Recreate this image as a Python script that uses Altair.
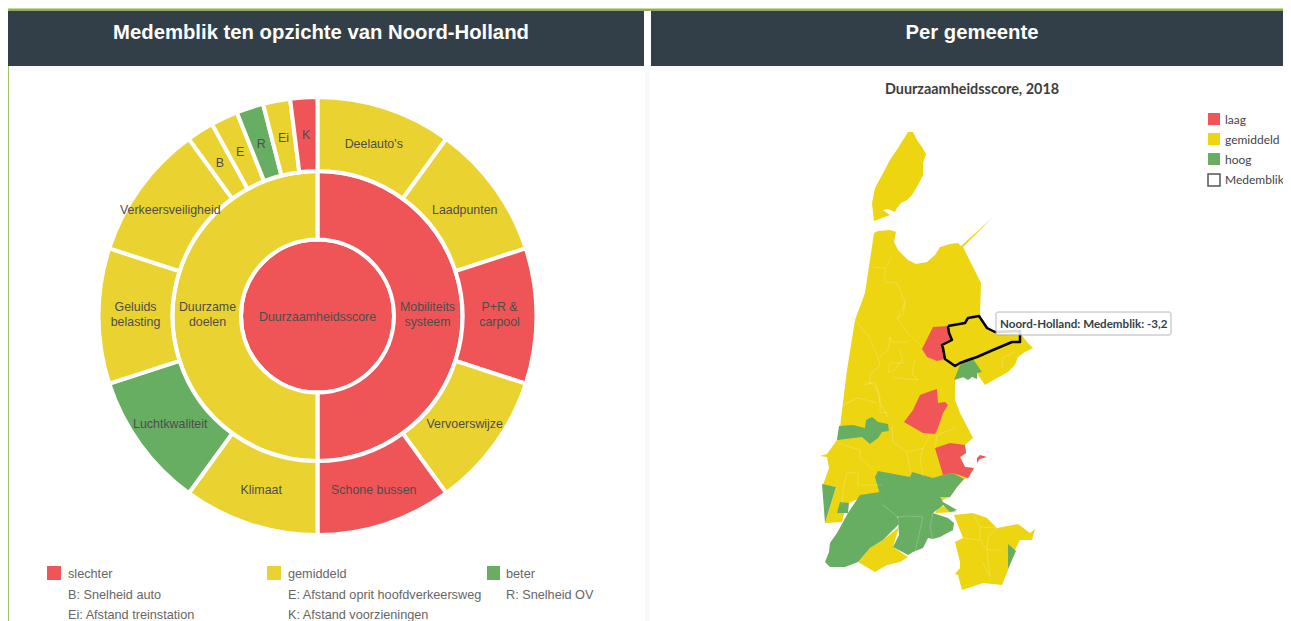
import math
import altair as alt

# ---- sunburst values (each share in degrees of the ring) ----
inner_names = ["Duurzaamheidsscore"]
inner_shares = [360]
inner_status = ["slechter"]

middle_names = ["Mobiliteits\nsysteem", "Duurzame\ndoelen"]
middle_shares = [180, 180]
middle_status = ["slechter", "gemiddeld"]

outer_names = ["Deelauto's", "Laadpunten", "P+R &\ncarpool", "Vervoerswijze", "Schone bussen",
               "Klimaat", "Luchtkwaliteit", "Geluids\nbelasting", "Verkeersveiligheid",
               "B", "E", "R", "Ei", "K"]
outer_shares = [36, 36, 36, 36, 36, 36, 36, 36, 36, 7.2, 7.2, 7.2, 7.2, 7.2]
outer_status = ["gemiddeld", "gemiddeld", "slechter", "gemiddeld", "slechter",
                "gemiddeld", "beter", "gemiddeld", "gemiddeld",
                "gemiddeld", "gemiddeld", "beter", "gemiddeld", "slechter"]

status_domain = ["slechter", "gemiddeld", "beter", "laag", "middel", "hoog"]
status_range = ["#EF5557", "#EAD330", "#67AD62", "#F05557", "#EDD512", "#67AD62"]

left_legend_a = ["slechter", "B: Snelheid auto", "Ei: Afstand treinstation"]
left_legend_b = ["gemiddeld", "E: Afstand oprit hoofdverkeersweg", "K: Afstand voorzieningen"]
left_legend_c = ["beter", "R: Snelheid OV"]
right_legend = ["laag", "gemiddeld", "hoog", "Medemblik"]

# ---- map shapes, traced in map units ----
texel = [(908,132),(913,132),(917,140),(922,147),(926,154),(923,163),(923,175),(918,185),(912,195),(907,200),
         (901,203),(897,208),(895,212),(888,209),(883,210),(890,215),(874,221),(872,203),(875,188),(882,175),
         (890,160),(898,148),(905,137)]
mainland = [(874,233),(878,231),(890,230),(896,232),(894,242),(898,250),(908,260),(916,264),(927,262),(935,255),
            (940,247),(950,244),(958,243),(961,246),(993,217),(963,247),(981,283),(980,315),(983,322),(987,328),
            (995,332),(1020,333),(1028,343),(1033,348),(1025,352),(1018,357),(1015,365),(1008,372),(997,378),
            (985,385),(980,378),(977,373),(955,380),(955,400),(960,413),(973,438),(965,445),(966,453),(960,457),
            (965,467),(974,468),(968,478),(964,479),(957,487),(950,497),(930,505),(883,505),(860,498),(849,503),
            (845,510),(842,522),(825,523),(836,487),(823,485),(829,468),(827,457),(820,456),(827,454),(837,440),
            (840,427),(847,370),(855,320),(865,293),(873,267)]
gooi = [(954,515),(973,513),(987,518),(997,528),(1018,524),(1030,533),(1035,529),(1032,540),(1020,540),(1015,550),
        (1008,570),(1002,585),(983,583),(962,590),(958,575),(955,574),(960,568),(960,562),(955,542),(963,538),(955,537)]
south_bit = [(858,562),(870,548),(883,540),(899,527),(893,547),(908,557),(900,562),(887,565),(875,572),(873,563)]
diemen_bit = [(935,513),(940,505),(957,512),(948,520)]
hoorn = [(960,365),(968,360),(972,358),(975,362),(982,372),(977,373),(977,379),(972,377),(968,380),(963,377),
         (954,380),(959,373)]
alkmaar_red = [(933,327),(948,326),(950,333),(953,340),(942,345),(945,359),(937,361),(927,357),(922,349),(928,335)]
beemster_red = [(904,422),(913,410),(920,395),(928,392),(937,389),(938,403),(945,402),(948,405),(943,413),(938,428),
                (935,434),(923,433),(908,428)]
waterland_red = [(935,448),(950,443),(965,445),(966,453),(960,457),(965,467),(974,468),(968,478),(953,473),(943,475),(936,473)]
marken_red = [(977,458),(980,455),(987,457),(980,459),(977,463),(974,462)]
velsen = [(837,440),(839,426),(853,425),(865,428),(866,420),(872,417),(878,422),(888,424),(889,431),(882,432),
          (878,438),(870,444),(862,437),(848,438)]
zandvoort = [(822,484),(836,487),(825,523),(809,516)]
small_green = [(837,513),(840,502),(849,503),(848,513),(842,518)]
meer = [(848,513),(860,495),(880,492),(883,505),(897,515),(899,524),(883,540),(870,548),(858,562),(845,567),
        (830,567),(825,562),(829,552),(830,543),(837,533),(842,520)]
amsterdam = [(875,477),(878,471),(910,477),(912,472),(933,478),(943,475),(953,473),(964,479),(957,487),(950,497),
             (940,497),(943,502),(957,510),(950,512),(943,505),(933,513),(948,518),(954,523),(953,530),(940,537),
             (933,539),(928,538),(923,548),(913,552),(908,555),(893,547),(899,535),(898,517),(883,505),(883,487)]
weesp = [(1008,544),(1016,551),(1008,569),(1001,553)]
medemblik = [(948,326),(965,323),(968,318),(979,316),(983,322),(987,328),(995,332),(1020,331),(1020,342),(1012,342),
             (993,350),(977,357),(968,360),(960,363),(955,366),(945,359),(943,348),(942,345),(952,340),(949,333),(948,326)]

borders = [
    [(905,300),(903,315),(897,318),(908,333),(922,347)],
    [(855,320),(868,335),(878,357),(880,365),(870,375),(870,383),(877,388),(880,403),(888,417)],
    [(880,357),(888,350),(890,337),(892,342),(908,342)],
    [(900,350),(903,363),(890,363),(888,372),(895,370),(900,362)],
    [(915,360),(912,373),(918,380),(897,378),(892,377)],
    [(843,405),(858,398),(877,403)],
    [(863,385),(872,383)],
    [(865,383),(875,383),(880,397),(880,412),(888,413)],
    [(892,427),(893,442),(907,452),(911,475)],
    [(838,443),(860,450),(860,458),(873,470)],
    [(930,435),(923,448),(907,452)],
    [(923,448),(920,458),(923,477)],
    [(935,448),(937,435),(955,428)],
    [(847,473),(843,490),(842,505)],
    [(847,473),(858,472),(858,485),(882,485)],
    [(873,267),(885,268),(892,257)],
    [(885,268),(885,282),(897,283),(905,303),(897,318)],
    [(980,527),(997,528)],
    [(963,538),(980,540),(987,550),(990,577),(983,563)],
    [(997,528),(988,537),(987,550),(1002,550)],
    [(973,513),(980,527),(980,540)],
    [(1015,352),(1002,358),(1003,368)],
    [(898,517),(907,516),(923,517),(915,552)],
    [(933,513),(930,527),(933,539)],
    [(883,505),(898,517)],
]


def ring_rows(names, shares, status, r0, r1, rt):
    rows, start = [], 0.0
    for n, s, c in zip(names, shares, status):
        rows.append({"name": n, "a0": start, "a1": start + s, "mid": start + s / 2,
                     "status": c, "r0": r0, "r1": r1, "rt": rt})
        start += s
    return rows


rows = (ring_rows(inner_names, inner_shares, inner_status, 0, 76.5, 0)
        + ring_rows(middle_names, middle_shares, middle_status, 76.5, 145, 110)
        + ring_rows(outer_names, outer_shares, outer_status, 145, 219, 182))
rows_single = [r for r in rows if "\n" not in r["name"]]
rows_double = [r for r in rows if "\n" in r["name"]]

cx, cy = 309.5, 308
scale_c = alt.Scale(domain=status_domain, range=status_range)
color = alt.Color("status:N", scale=scale_c, legend=None)
color_map = alt.Color("properties.status:N", scale=scale_c, legend=None)
th_scale = alt.Scale(domain=[0, 360], range=[0, 2 * math.pi])
r_scale = alt.Scale(type="linear", domain=[0, 300], range=[0, 300])

arcs = alt.Chart(alt.Data(values=rows)).mark_arc(stroke="white", strokeWidth=4).encode(
    x=alt.value(cx), y=alt.value(cy),
    theta=alt.Theta("a0:Q", scale=th_scale, stack=None), theta2="a1:Q",
    radius=alt.Radius("r1:Q", scale=r_scale), radius2="r0:Q",
    color=color,
)


def arc_labels(data, dy):
    return alt.Chart(alt.Data(values=data)).mark_text(
        font="Liberation Sans", fontSize=12.4, color="#4d4d4d", lineBreak="\n", lineHeight=15, dy=dy,
    ).encode(
        x=alt.value(cx), y=alt.value(cy),
        theta=alt.Theta("mid:Q", scale=th_scale, stack=None),
        radius=alt.Radius("rt:Q", scale=r_scale),
        text="name:N",
    )


def feat(ring, status):
    return {"type": "Feature", "properties": {"status": status},
            "geometry": {"type": "Polygon", "coordinates": [[list(p) for p in ring]]}}


proj = {"type": "identity", "scale": 1, "translate": [-8, -8]}
yellow_feats = [feat(s, "middel") for s in (texel, mainland, gooi, south_bit, diemen_bit)]
top_feats = ([feat(s, "hoog") for s in (hoorn, velsen, zandvoort, small_green, meer, amsterdam, weesp)]
             + [feat(s, "laag") for s in (alkmaar_red, beemster_red, waterland_red, marken_red)])

map_base = alt.Chart(alt.Data(values=yellow_feats)).mark_geoshape(strokeWidth=0).encode(color=color_map).project(**proj)
map_top = alt.Chart(alt.Data(values=top_feats)).mark_geoshape(strokeWidth=0).encode(color=color_map).project(**proj)
map_lines = alt.Chart(alt.Data(values=[{"type": "Feature", "properties": {},
                                         "geometry": {"type": "MultiLineString",
                                                      "coordinates": [[list(p) for p in l] for l in borders]}}])
                      ).mark_geoshape(filled=False, stroke="#FFFFFF", strokeOpacity=0.25, strokeWidth=0.8).project(**proj)
map_outline = alt.Chart(alt.Data(values=[{"type": "Feature", "properties": {},
                                           "geometry": {"type": "LineString",
                                                        "coordinates": [list(p) for p in medemblik]}}])
                        ).mark_geoshape(filled=False, stroke="#000000", strokeWidth=2.5, strokeJoin="round").project(**proj)


def rect(x0, x1, y0, y1, fill, **kw):
    return alt.Chart(alt.Data(values=[{}])).mark_rect(fill=fill, **kw).encode(
        x=alt.value(x0 - 8), x2=alt.value(x1 - 8), y=alt.value(y0 - 8), y2=alt.value(y1 - 8))


def txt(s, x, y, size=12.7, color_="#666666", font="Liberation Sans", weight="normal", align="left"):
    return alt.Chart(alt.Data(values=[{}])).mark_text(
        font=font, fontSize=size, color=color_, fontWeight=weight, align=align, baseline="middle",
    ).encode(x=alt.value(x - 8), y=alt.value(y - 8), text=alt.value(s))


layers = [
    rect(8, 1283, 8, 621, "#FFFFFF"),
    rect(8, 1283, 66, 71, "#F8F9F9"),
    rect(645, 650, 66, 621, "#F8F9FA"),
    rect(8, 1283, 8, 9, "#C9DBA2"),
    rect(8, 1283, 9, 11, "#8FAC5A"),
    rect(8, 9, 9, 621, "#A5BF6C"),
    rect(8, 644, 11, 66, "#333F48"),
    rect(651, 1283, 11, 66, "#333F48"),
    txt("Medemblik ten opzichte van Noord-Holland", 321, 33, 20.3, "#FFFFFF", weight="bold", align="center"),
    txt("Per gemeente", 972, 33, 20.3, "#FFFFFF", weight="bold", align="center"),
    arcs,
    arc_labels(rows_single, 1),
    arc_labels(rows_double, -9),
    txt("Duurzaamheidsscore, 2018", 972, 90, 14.4, "#3d3d3d", "Lato", "bold", "center"),
    map_base, map_top, map_lines, map_outline,
    rect(996, 1171, 312, 335, "#FFFFFF", opacity=0.85, stroke="#AAAAAA", strokeWidth=1, cornerRadius=2),
    txt("Noord-Holland: Medemblik: -3,2", 1000, 325, 11.6, "#333F48", "Lato", "bold"),
]

for i, s in enumerate(left_legend_a):
    layers.append(txt(s, 68, 574 + i * 20.5))
for i, s in enumerate(left_legend_b):
    layers.append(txt(s, 288, 574 + i * 20.5))
for i, s in enumerate(left_legend_c):
    layers.append(txt(s, 506, 574 + i * 20.5))
layers += [
    rect(47, 61, 566, 580, status_range[0]),
    rect(267, 281, 566, 580, status_range[1]),
    rect(487, 500, 566, 580, status_range[2]),
    rect(1208, 1220, 113, 125, status_range[3]),
    rect(1208, 1220, 133, 145, status_range[4]),
    rect(1208, 1220, 153, 165, status_range[5]),
    rect(1208, 1220, 174, 186, "#FFFFFF", stroke="#555555", strokeWidth=1.5),
]
for i, s in enumerate(right_legend):
    layers.append(txt(s, 1225, 120 + i * 20, 12, "#444444", "Lato"))

chart = alt.layer(*layers).properties(
    width=1275, height=613, padding=0, autosize=alt.AutoSizeParams(type="none"),
).configure_view(stroke=None)

chart.save("out.html", embed_options={"renderer": "svg", "actions": False})
